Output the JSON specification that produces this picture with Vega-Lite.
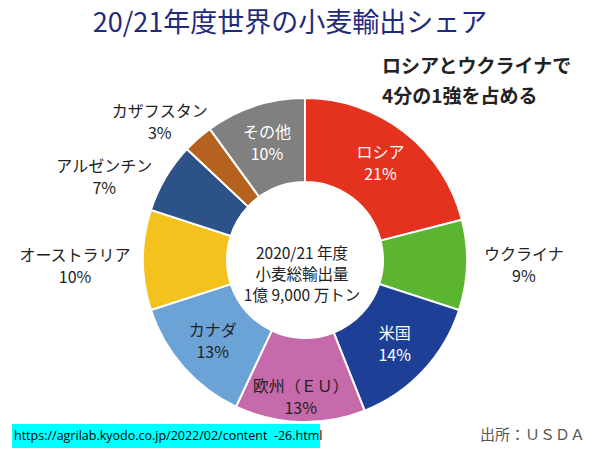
{
  "$schema": "https://vega.github.io/schema/vega-lite/v6.json",
  "width": 590,
  "height": 380,
  "autosize": "none",
  "padding": {"left": 10, "top": 70, "right": 0, "bottom": 0},
  "background": "white",
  "title": {
    "text": "20/21年度世界の小麦輸出シェア",
    "font": "Noto Sans CJK JP",
    "fontSize": 27,
    "fontWeight": "normal",
    "color": "#1f2a7a",
    "anchor": "middle",
    "dx": -15,
    "dy": 19,
    "offset": 10
  },
  "config": {"view": {"stroke": null}, "text": {"font": "Noto Sans CJK JP"}},
  "datasets": {
    "share": [
      {"idx": 1, "name": "ロシア", "value": 21, "label": "ロシア\n21%"},
      {"idx": 2, "name": "ウクライナ", "value": 9, "label": "ウクライナ\n9%"},
      {"idx": 3, "name": "米国", "value": 14, "label": "米国\n14%"},
      {"idx": 4, "name": "欧州(EU)", "value": 13, "label": "欧州（ＥＵ）\n13%"},
      {"idx": 5, "name": "カナダ", "value": 13, "label": "カナダ\n13%"},
      {"idx": 6, "name": "オーストラリア", "value": 10, "label": "オーストラリア\n10%"},
      {"idx": 7, "name": "アルゼンチン", "value": 7, "label": "アルゼンチン\n7%"},
      {"idx": 8, "name": "カザフスタン", "value": 3, "label": "カザフスタン\n3%"},
      {"idx": 9, "name": "その他", "value": 10, "label": "その他\n10%"}
    ]
  },
  "layer": [
    {
      "data": {"name": "share"},
      "mark": {"type": "arc", "outerRadius": 162, "innerRadius": 78, "stroke": "white", "strokeWidth": 2},
      "encoding": {
        "theta": {"field": "value", "type": "quantitative", "stack": true},
        "order": {"field": "idx", "type": "quantitative"},
        "color": {
          "field": "name",
          "type": "nominal",
          "scale": {
            "domain": ["ロシア", "ウクライナ", "米国", "欧州(EU)", "カナダ", "オーストラリア", "アルゼンチン", "カザフスタン", "その他"],
            "range": ["#e5321f", "#5cb531", "#1e3f96", "#c66aab", "#6ca3d6", "#f4c21c", "#2d5288", "#b5621e", "#808080"]
          },
          "legend": null
        }
      }
    },
    {
      "data": {"name": "share"},
      "mark": {"type": "text", "radius": 123, "dy": -10, "fontSize": 16, "lineBreak": "\n", "lineHeight": 22, "baseline": "middle"},
      "encoding": {
        "theta": {"field": "value", "type": "quantitative", "stack": true},
        "order": {"field": "idx", "type": "quantitative"},
        "text": {"condition": {"test": "indexof(['ロシア','米国','カナダ','その他'], datum.name) >= 0", "field": "label", "type": "nominal"}, "value": ""},
        "color": {"condition": {"test": "datum.name === 'カナダ'", "value": "#222222"}, "value": "white"}
      }
    },
    {
      "data": {"name": "share"},
      "mark": {"type": "text", "radius": 137, "dy": -10, "fontSize": 16, "lineBreak": "\n", "lineHeight": 22, "baseline": "middle", "color": "#222222"},
      "encoding": {
        "theta": {"field": "value", "type": "quantitative", "stack": true},
        "order": {"field": "idx", "type": "quantitative"},
        "text": {"condition": {"test": "datum.name === '欧州(EU)'", "field": "label", "type": "nominal"}, "value": ""}
      }
    },
    {
      "data": {"name": "share"},
      "mark": {"type": "text", "radius": 219, "dy": -12, "fontSize": 16, "lineBreak": "\n", "lineHeight": 22, "baseline": "middle", "color": "#222222"},
      "encoding": {
        "theta": {"field": "value", "type": "quantitative", "stack": true},
        "order": {"field": "idx", "type": "quantitative"},
        "text": {"condition": {"test": "datum.name === 'ウクライナ'", "field": "label", "type": "nominal"}, "value": ""}
      }
    },
    {
      "data": {"name": "share"},
      "mark": {"type": "text", "radius": 230, "dy": -4, "fontSize": 16, "lineBreak": "\n", "lineHeight": 22, "baseline": "middle", "color": "#222222"},
      "encoding": {
        "theta": {"field": "value", "type": "quantitative", "stack": true},
        "order": {"field": "idx", "type": "quantitative"},
        "text": {"condition": {"test": "datum.name === 'オーストラリア'", "field": "label", "type": "nominal"}, "value": ""}
      }
    },
    {
      "data": {"name": "share"},
      "mark": {"type": "text", "radius": 217, "dx": -14, "dy": 17, "fontSize": 16, "lineBreak": "\n", "lineHeight": 22, "baseline": "middle", "color": "#222222"},
      "encoding": {
        "theta": {"field": "value", "type": "quantitative", "stack": true},
        "order": {"field": "idx", "type": "quantitative"},
        "text": {"condition": {"test": "datum.name === 'アルゼンチン'", "field": "label", "type": "nominal"}, "value": ""}
      }
    },
    {
      "data": {"name": "share"},
      "mark": {"type": "text", "radius": 200, "dx": -13, "dy": 2, "fontSize": 16, "lineBreak": "\n", "lineHeight": 22, "baseline": "middle", "color": "#222222"},
      "encoding": {
        "theta": {"field": "value", "type": "quantitative", "stack": true},
        "order": {"field": "idx", "type": "quantitative"},
        "text": {"condition": {"test": "datum.name === 'カザフスタン'", "field": "label", "type": "nominal"}, "value": ""}
      }
    },
    {
      "data": {"values": [{}]},
      "mark": {"type": "text", "text": ["2020/21 年度", "小麦総輸出量", "1億 9,000 万トン"], "fontSize": 15.5, "lineHeight": 21, "baseline": "middle", "dx": -3, "dy": -6, "color": "#222222"},
      "encoding": {}
    },
    {
      "data": {"values": [{}]},
      "mark": {"type": "text", "text": ["ロシアとウクライナで", "4分の1強を占める"], "align": "left", "baseline": "middle", "fontSize": 19, "fontWeight": "bold", "lineHeight": 30, "color": "#222222"},
      "encoding": {"x": {"value": 372}, "y": {"value": -3}}
    },
    {
      "data": {"values": [{}]},
      "mark": {"type": "rect", "color": "#00ffff"},
      "encoding": {"x": {"value": 2}, "x2": {"value": 310}, "y": {"value": 354}, "y2": {"value": 378}}
    },
    {
      "data": {"values": [{}]},
      "mark": {"type": "text", "text": "https://agrilab.kyodo.co.jp/2022/02/content \u00a0-26.html", "font": "Open Sans", "align": "left", "baseline": "middle", "fontSize": 12.5, "color": "#000000"},
      "encoding": {"x": {"value": 4}, "y": {"value": 366}}
    },
    {
      "data": {"values": [{}]},
      "mark": {"type": "text", "text": "出所：ＵＳＤＡ", "align": "right", "baseline": "middle", "fontSize": 15, "color": "#555555"},
      "encoding": {"x": {"value": 575}, "y": {"value": 365}}
    }
  ]
}
